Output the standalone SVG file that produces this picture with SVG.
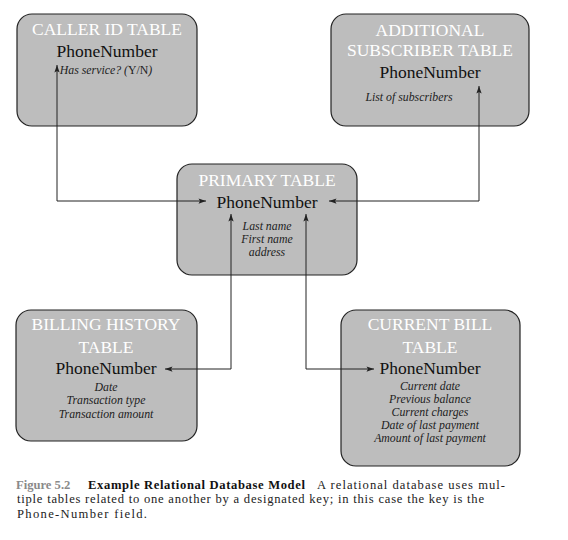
<svg xmlns="http://www.w3.org/2000/svg" width="568" height="540" viewBox="0 0 568 540" font-family="'Liberation Serif', 'DejaVu Serif', serif">
<style>
text{font-family:'Liberation Serif','DejaVu Serif',serif}
.box{fill:#bdbdbd;stroke:#222;stroke-width:1.2}
.ttl{font-size:17.5px;fill:#fff;text-anchor:middle}
.key{font-size:17.5px;fill:#111;text-anchor:middle}
.fld{font-size:11.8px;font-style:italic;fill:#222;text-anchor:middle}
.con{fill:none;stroke:#222;stroke-width:1}
.cap{font-size:12.6px;fill:#222}
</style>
<defs>
<marker id="ah" viewBox="0 0 10 8" refX="10" refY="4" markerWidth="8" markerHeight="6" orient="auto" markerUnits="userSpaceOnUse">
<path d="M0,0.5 L10,4 L0,7.5 L2,4 Z" fill="#222"/>
</marker>
</defs>
<rect width="568" height="540" fill="#fff"/>

<g id="caller-id">
<rect class="box" x="17" y="14" width="180" height="112" rx="15"/>
<text class="ttl" x="107" y="35">CALLER ID TABLE</text>
<text class="key" x="107" y="57">PhoneNumber</text>
<text class="fld" x="106" y="74">Has service? (<tspan font-style="normal">Y/N</tspan>)</text>
</g>

<g id="additional-subscriber">
<rect class="box" x="331" y="14" width="198" height="112" rx="15"/>
<text class="ttl" x="430" y="36">ADDITIONAL</text>
<text class="ttl" x="430" y="56">SUBSCRIBER TABLE</text>
<text class="key" x="430" y="78">PhoneNumber</text>
<text class="fld" x="409" y="101">List of subscribers</text>
</g>

<g id="primary">
<rect class="box" x="177" y="164" width="180" height="111" rx="15"/>
<text class="ttl" x="267" y="186">PRIMARY TABLE</text>
<text class="key" x="267" y="208">PhoneNumber</text>
<text class="fld" x="267" y="230">Last name</text>
<text class="fld" x="267" y="243">First name</text>
<text class="fld" x="267" y="256">address</text>
</g>

<g id="billing-history">
<rect class="box" x="16" y="310" width="181" height="131" rx="15"/>
<text class="ttl" x="106" y="330">BILLING HISTORY</text>
<text class="ttl" x="106" y="353">TABLE</text>
<text class="key" x="106" y="374">PhoneNumber</text>
<text class="fld" x="106" y="391">Date</text>
<text class="fld" x="106" y="404">Transaction type</text>
<text class="fld" x="106" y="418">Transaction amount</text>
</g>

<g id="current-bill">
<rect class="box" x="341" y="310" width="179" height="156" rx="15"/>
<text class="ttl" x="430" y="330">CURRENT BILL</text>
<text class="ttl" x="430" y="353">TABLE</text>
<text class="key" x="430" y="374">PhoneNumber</text>
<text class="fld" x="430" y="390">Current date</text>
<text class="fld" x="430" y="403">Previous balance</text>
<text class="fld" x="430" y="416">Current charges</text>
<text class="fld" x="430" y="429">Date of last payment</text>
<text class="fld" x="430" y="442">Amount of last payment</text>
</g>

<g id="connectors">
<path class="con" d="M57,201 V65" marker-end="url(#ah)"/>
<path class="con" d="M57,201 H206" marker-end="url(#ah)"/>
<path class="con" d="M479,201 V86" marker-end="url(#ah)"/>
<path class="con" d="M479,201 H329" marker-end="url(#ah)"/>
<path class="con" d="M231,369 H165" marker-end="url(#ah)"/>
<path class="con" d="M231,369 V214" marker-end="url(#ah)"/>
<path class="con" d="M306,369 V214" marker-end="url(#ah)"/>
<path class="con" d="M306,369 H374" marker-end="url(#ah)"/>
</g>

<g id="caption">
<text class="cap" x="16" y="488.5" font-weight="bold" style="fill:#8a8a8a">Figure 5.2</text>
<text class="cap" x="88" y="488.5" font-weight="bold" style="fill:#111" textLength="217">Example Relational Database Model</text>
<text class="cap" x="317" y="488.5" textLength="188">A relational database uses mul-</text>
<text class="cap" x="17" y="503" textLength="467">tiple tables related to one another by a designated key; in this case the key is the</text>
<text class="cap" x="17" y="517.5" textLength="130">Phone-Number field.</text>
</g>
</svg>
